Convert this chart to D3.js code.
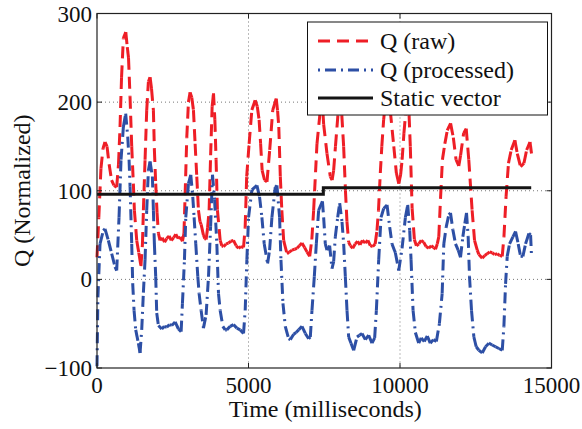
<!DOCTYPE html>
<html><head><meta charset="utf-8">
<script src="https://cdn.jsdelivr.net/npm/d3@7"></script>
<style>body{margin:0;background:#fff}svg{display:block}text{font-family:"Liberation Serif","Times New Roman",serif;fill:#111}</style>
</head><body>
<script>
// ---- data (time ms, Q) ----
const rawQ = [[0,25],[60,70],[130,125],[200,148],[264,155],[330,150],[400,130],[480,112],[560,106],[650,104],[710,130],[760,172],[810,228],[870,272],[950,279],[1000,262],[1040,250],[1090,206],[1146,150],[1200,108],[1234,78],[1311,44],[1380,30],[1450,15],[1500,40],[1531,78],[1586,135],[1641,191],[1696,223],[1751,228],[1800,215],[1861,191],[1894,146],[1938,108],[1982,75],[2027,52],[2080,44],[2150,47],[2230,42],[2300,46],[2380,49],[2450,44],[2530,47],[2600,51],[2680,46],[2750,48],[2820,43],[2870,52],[2908,95],[2963,160],[3018,200],[3073,211],[3130,205],[3183,191],[3238,153],[3293,116],[3348,78],[3400,65],[3436,62],[3513,50],[3560,46],[3601,45],[3650,58],[3700,78],[3750,140],[3800,195],[3845,210],[3890,180],[3930,135],[3975,78],[4065,44],[4120,38],[4175,37],[4260,40],[4340,41],[4420,43],[4505,44],[4590,38],[4670,35],[4750,37],[4836,36],[4890,59],[4940,116],[5020,153],[5110,191],[5220,202],[5290,195],[5350,180],[5400,153],[5450,123],[5530,112],[5610,110],[5700,146],[5800,191],[5915,204],[5960,190],[6000,172],[6050,116],[6100,78],[6160,44],[6270,29],[6350,31],[6435,33],[6520,34],[6600,35],[6680,38],[6765,41],[6850,36],[6930,31],[7020,26],[7090,45],[7150,78],[7260,153],[7370,191],[7420,210],[7480,175],[7590,142],[7700,116],[7760,112],[7810,123],[7870,150],[7950,185],[8020,210],[8080,185],[8140,150],[8200,100],[8250,65],[8305,42],[8360,38],[8440,35],[8520,40],[8600,43],[8680,39],[8760,44],[8850,41],[8940,44],[9020,38],[9100,37],[9180,40],[9240,55],[9290,78],[9350,120],[9400,150],[9460,180],[9520,200],[9600,215],[9680,190],[9795,150],[9880,120],[9960,108],[10020,118],[10070,135],[10130,165],[10180,185],[10250,208],[10300,185],[10340,150],[10400,80],[10475,45],[10540,38],[10620,40],[10700,44],[10780,42],[10860,37],[10950,35],[11030,38],[11110,36],[11171,34],[11230,40],[11280,48],[11340,93],[11400,135],[11480,153],[11560,168],[11670,176],[11760,160],[11850,135],[11940,128],[12000,140],[12100,165],[12185,170],[12270,135],[12380,78],[12460,44],[12550,33],[12603,28],[12713,24],[12800,27],[12878,29],[12960,31],[13043,30],[13120,28],[13208,29],[13290,27],[13374,26],[13430,48],[13500,93],[13580,131],[13670,146],[13792,157],[13870,142],[13980,127],[14090,131],[14180,146],[14290,155],[14340,142]];

const processedQ = [[0,-98],[30,-20],[99,40],[209,55],[264,57],[374,44],[485,29],[595,14],[650,10],[727,70],[793,135],[870,172],[947,187],[1014,161],[1058,135],[1091,105],[1146,40],[1179,-5],[1223,-35],[1278,-57],[1366,-72],[1421,-83],[1476,-57],[1531,-15],[1586,22],[1641,78],[1696,123],[1751,133],[1828,116],[1861,78],[1894,40],[1938,3],[1971,-38],[2027,-52],[2137,-56],[2220,-53],[2302,-54],[2390,-51],[2468,-52],[2578,-48],[2688,-56],[2776,-59],[2820,-27],[2886,22],[2930,70],[3018,108],[3095,118],[3161,93],[3205,70],[3260,40],[3327,3],[3370,-16],[3436,-35],[3513,-55],[3601,-40],[3680,3],[3750,60],[3812,118],[3880,90],[3955,40],[4010,-16],[4065,-35],[4153,-53],[4230,-57],[4285,-57],[4395,-53],[4505,-51],[4616,-55],[4726,-57],[4836,-61],[4891,-35],[4946,22],[5002,70],[5112,101],[5277,106],[5365,93],[5442,70],[5519,40],[5630,18],[5696,33],[5773,70],[5883,104],[5938,106],[6026,70],[6071,22],[6137,-27],[6214,-53],[6324,-67],[6380,-68],[6490,-62],[6570,-60],[6655,-57],[6765,-53],[6875,-61],[6985,-67],[7040,-65],[7095,-35],[7172,3],[7238,40],[7315,78],[7440,88],[7480,70],[7535,40],[7590,33],[7678,38],[7755,12],[7810,20],[7865,48],[7943,70],[8009,86],[8086,65],[8141,40],[8196,3],[8251,-35],[8306,-65],[8383,-72],[8471,-80],[8581,-65],[8660,-63],[8746,-61],[8856,-68],[8966,-63],[9076,-72],[9164,-66],[9220,-35],[9297,22],[9374,70],[9462,80],[9572,84],[9660,59],[9737,40],[9847,30],[9958,10],[10068,35],[10178,70],[10255,84],[10321,55],[10365,22],[10431,-35],[10508,-60],[10618,-72],[10700,-66],[10800,-70],[10900,-64],[11000,-72],[11100,-68],[11200,-70],[11300,-50],[11391,-16],[11446,40],[11524,59],[11612,73],[11667,75],[11744,56],[11832,40],[11920,33],[11997,25],[12074,48],[12140,63],[12195,75],[12250,48],[12294,3],[12360,-35],[12438,-65],[12515,-76],[12603,-80],[12713,-83],[12823,-76],[12933,-72],[13043,-74],[13153,-76],[13264,-78],[13374,-80],[13429,-53],[13484,-5],[13539,26],[13616,40],[13726,48],[13814,54],[13902,40],[13979,26],[14056,26],[14144,40],[14254,52],[14310,50],[14340,26]];

const staticQ = [[0,96],[7470,96],[7470,103.5],[14330,103.5]];

const xTickValues = [0,5000,10000,15000];
const xTickLabels = ["0","5000","10000","15000"];
const yTickValues = [-100,0,100,200,300];
const yTickLabels = ["\u2212100","0","100","200","300"];
const legendLabels = ["Q (raw)","Q (processed)","Static vector"];
const xTitle = "Time (milliseconds)";
const yTitle = "Q (Normalized)";

// ---- layout ----
const W = 582, H = 429;
const L = 97, R = 551.5, T = 13.5, B = 368;
const FS = 23, FS2 = 24;
const svg = d3.select("body").append("svg").attr("width",W).attr("height",H);
const x = d3.scaleLinear().domain([0,15000]).range([L,R]);
const y = d3.scaleLinear().domain([-100,300]).range([B,T]);

const styles = [
  {color:"#ee1e26", width:3, dash:"12,7"},
  {color:"#2d4fa5", width:3, dash:"11,5,2,5"},
  {color:"#141414", width:3, dash:null}
];

// grid
const grid = svg.append("g").attr("stroke","#777").attr("stroke-width",1).attr("stroke-dasharray","1,3");
grid.selectAll("line.gx").data(xTickValues.filter(v=>v>0&&v<15000)).join("line")
  .attr("x1",d=>x(d)).attr("x2",d=>x(d)).attr("y1",T).attr("y2",B);
grid.selectAll("line.gy").data(yTickValues.filter(v=>v>-100&&v<300)).join("line")
  .attr("y1",d=>y(d)).attr("y2",d=>y(d)).attr("x1",L).attr("x2",R);

// series drawn segment by segment (dash pattern restarts at each vertex)
function drawSeries(data, st){
  const segs = d3.pairs(data);
  const g = svg.append("g").attr("fill","none");
  g.selectAll("line").data(segs).join("line")
    .attr("x1",d=>x(d[0][0])).attr("y1",d=>y(d[0][1]))
    .attr("x2",d=>x(d[1][0])).attr("y2",d=>y(d[1][1]))
    .attr("stroke",st.color).attr("stroke-width",st.width)
    .attr("stroke-dasharray",st.dash);
}
drawSeries(rawQ, styles[0]);
drawSeries(processedQ, styles[1]);
svg.append("path").datum(staticQ)
  .attr("d", d3.line().x(d=>x(d[0])).y(d=>y(d[1])))
  .attr("fill","none").attr("stroke",styles[2].color).attr("stroke-width",styles[2].width);

// frame and ticks
svg.append("rect").attr("x",L).attr("y",T).attr("width",R-L).attr("height",B-T)
  .attr("fill","none").attr("stroke","#222").attr("stroke-width",1.2);
const tk = svg.append("g").attr("stroke","#222").attr("stroke-width",1);
const tl = 5;
xTickValues.forEach(v=>{
  tk.append("line").attr("x1",x(v)).attr("x2",x(v)).attr("y1",B).attr("y2",B-tl);
  tk.append("line").attr("x1",x(v)).attr("x2",x(v)).attr("y1",T).attr("y2",T+tl);
});
yTickValues.forEach(v=>{
  tk.append("line").attr("y1",y(v)).attr("y2",y(v)).attr("x1",L).attr("x2",L+tl);
  tk.append("line").attr("y1",y(v)).attr("y2",y(v)).attr("x1",R).attr("x2",R-tl);
});

// tick labels
svg.append("g").selectAll("text").data(xTickValues).join("text")
  .attr("x",d=>x(d)).attr("y",393).attr("text-anchor","middle").attr("font-size",FS)
  .text((d,i)=>xTickLabels[i]);
svg.append("g").selectAll("text").data(yTickValues).join("text")
  .attr("x",L-5).attr("y",d=>y(d)+8).attr("text-anchor","end").attr("font-size",FS)
  .text((d,i)=>yTickLabels[i]);

// axis titles
svg.append("text").attr("x",(L+R)/2 + 1).attr("y",417).attr("text-anchor","middle").attr("font-size",FS2).text(xTitle);
svg.append("text").attr("transform",`translate(30,${(T+B)/2}) rotate(-90)`).attr("text-anchor","middle").attr("font-size",FS2).text(yTitle);

// legend
const lg = svg.append("g");
lg.append("rect").attr("x",307.5).attr("y",22).attr("width",240).attr("height",93)
  .attr("fill","#fff").attr("stroke","#111").attr("stroke-width",1);
const rowsY = [41,70,98];
legendLabels.forEach((lab,i)=>{
  const st = styles[i];
  lg.append("line").attr("x1",318).attr("x2",373).attr("y1",rowsY[i]).attr("y2",rowsY[i])
    .attr("stroke",st.color).attr("stroke-width",st.width).attr("stroke-dasharray",i===1?"2,5,11,5":st.dash);
  lg.append("text").attr("x",380).attr("y",rowsY[i]+8).attr("font-size",FS2).text(lab);
});
</script>
</body></html>
